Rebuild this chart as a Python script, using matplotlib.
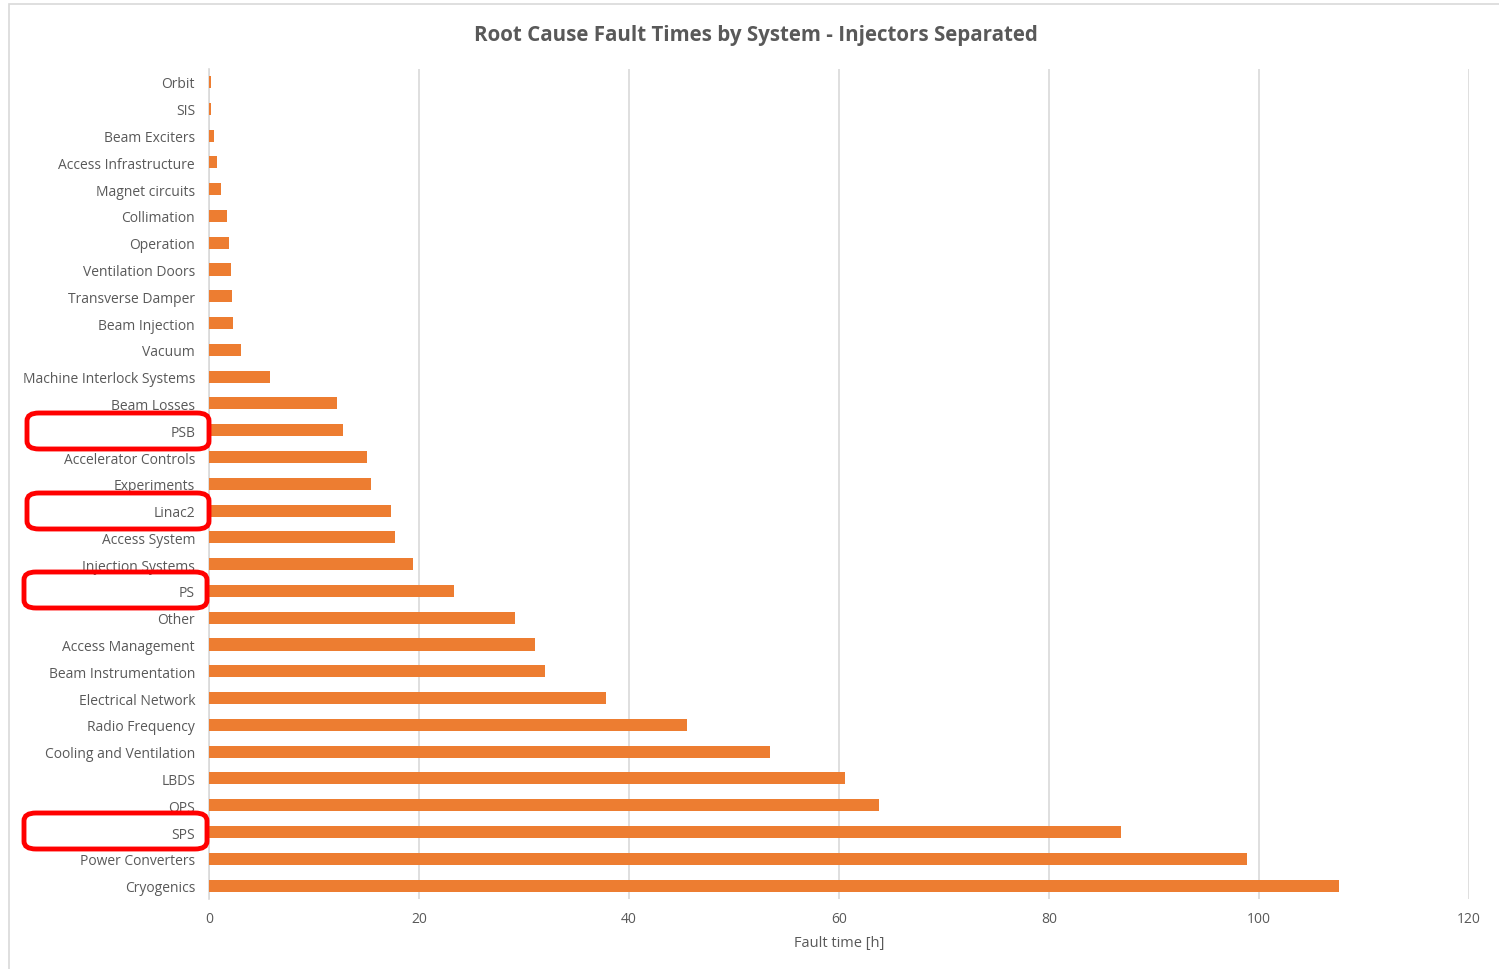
import matplotlib.pyplot as plt
from matplotlib.patches import FancyBboxPatch, Rectangle

plt.rcParams['font.family'] = ['Open Sans', 'DejaVu Sans']

# systems listed top to bottom, fault time in hours
systems = ["Orbit", "SIS", "Beam Exciters", "Access Infrastructure", "Magnet circuits",
           "Collimation", "Operation", "Ventilation Doors", "Transverse Damper",
           "Beam Injection", "Vacuum", "Machine Interlock Systems", "Beam Losses",
           "PSB", "Accelerator Controls", "Experiments", "Linac2", "Access System",
           "Injection Systems", "PS", "Other", "Access Management",
           "Beam Instrumentation", "Electrical Network", "Radio Frequency",
           "Cooling and Ventilation", "LBDS", "QPS", "SPS", "Power Converters",
           "Cryogenics"]
fault_hours = [0.2, 0.15, 0.5, 0.75, 1.15, 1.7, 1.9, 2.1, 2.2, 2.3, 3.05, 5.8,
               12.2, 12.8, 15.0, 15.4, 17.3, 17.7, 19.4, 23.3, 29.1, 31.0, 32.0,
               37.8, 45.5, 53.4, 60.6, 63.8, 86.9, 98.9, 107.6]
injectors = ["PSB", "Linac2", "PS", "SPS"]
x_ticks = [0, 20, 40, 60, 80, 100, 120]

W, H = 1499, 970
fig = plt.figure(figsize=(W / 100, H / 100), dpi=100)
fig.patch.set_facecolor("white")

# chart frame
fig.patches.append(Rectangle((9 / W, -0.05), 1.1, 1 - 5 / H + 0.05,
                             transform=fig.transFigure, fill=False,
                             edgecolor="#D9D9D9", linewidth=1.2))

ax = fig.add_axes([209 / W, 1 - 900.0 / H, 1260 / W, (900.0 - 69.6) / H])
pos = list(range(len(systems)))
ax.barh(pos, fault_hours, height=0.45, color="#ED7D31", zorder=3)
ax.set_ylim(len(systems) - 0.5, -0.5)
ax.set_yticks(pos)
ax.set_yticklabels(systems, fontsize=10, color="#595959")
ax.set_xlim(0, 120)
ax.set_xticks(x_ticks)
ax.set_xticklabels([str(t) for t in x_ticks], fontsize=10, color="#595959")
ax.tick_params(length=0, pad=10, axis="y")
ax.tick_params(length=0, pad=9, axis="x")
ax.grid(axis="x", color="#D9D9D9", linewidth=1.2, zorder=0)
for side in ["top", "right", "bottom"]:
    ax.spines[side].set_visible(False)
ax.spines["left"].set_color("#D9D9D9")
ax.spines["left"].set_linewidth(1.2)
ax.set_xlabel("Fault time [h]", fontsize=10.5, color="#595959", labelpad=6)

fig.text(756 / W, 1 - 35 / H, "Root Cause Fault Times by System - Injectors Separated",
         ha="center", va="center", fontsize=14.8, fontweight="bold", color="#595959")

# red boxes around the injector labels
box_pix = {"PSB": (27, 414, 209, 450), "Linac2": (27, 494, 209, 530),
           "PS": (24, 573, 207, 609), "SPS": (24, 814, 207, 850)}
for name in injectors:
    x0, y0, x1, y1 = box_pix[name]
    fig.patches.append(FancyBboxPatch(
        (x0 / W, 1 - y1 / H), (x1 - x0) / W, (y1 - y0) / H,
        boxstyle="round,pad=0,rounding_size=0.008", transform=fig.transFigure,
        fill=False, edgecolor="#FF0000", linewidth=3.5, zorder=10))

fig.savefig("out.png", dpi=100)
